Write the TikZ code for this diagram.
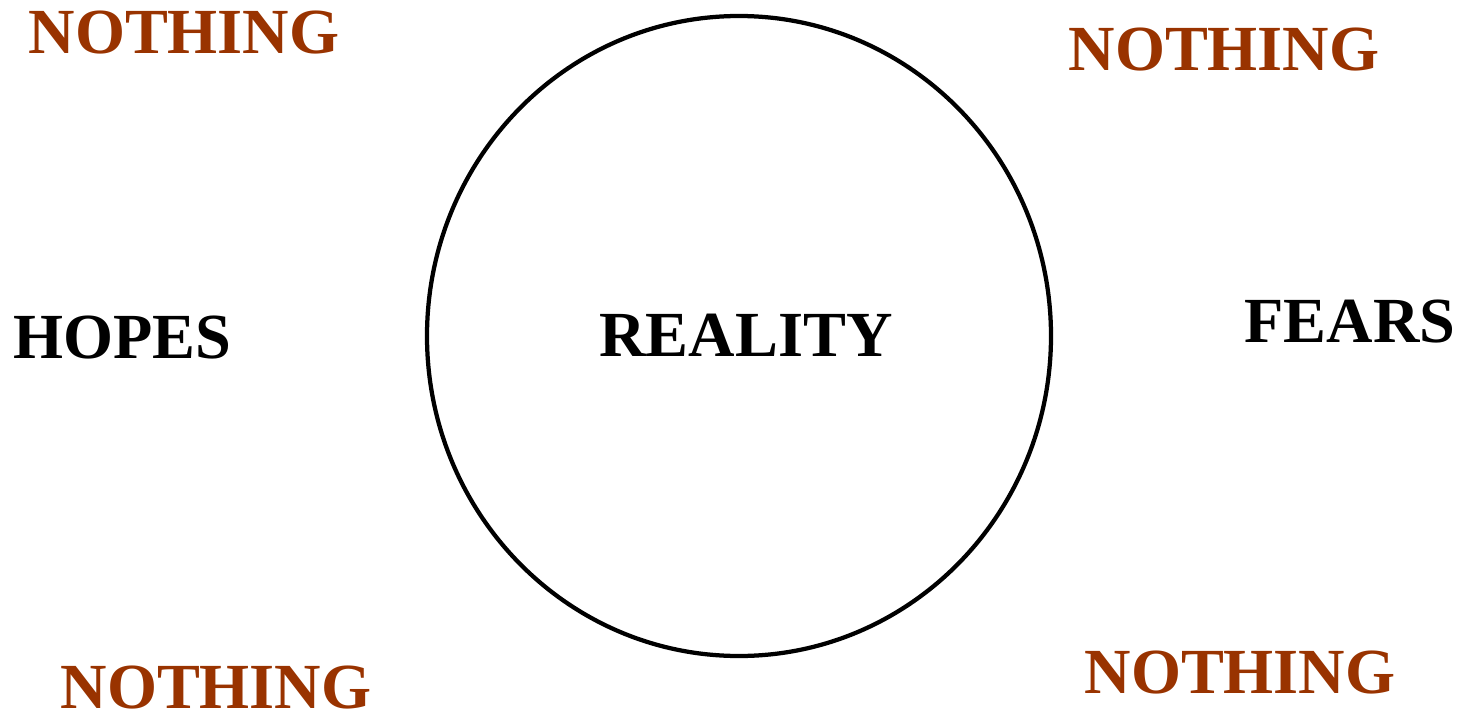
\documentclass[tikz,border=0pt]{standalone}
\usepackage{fontspec}
\setmainfont{Liberation Serif}
\usepackage{xcolor}
\usetikzlibrary{positioning}

\definecolor{rust}{HTML}{993300}

\begin{document}
\begin{tikzpicture}[
  x=0.02cm, y=-0.02cm,
  word/.style={inner sep=0pt, font=\fontsize{36.6}{40}\selectfont\bfseries},
  void/.style={word, text=rust},
  ring/.style={draw, line width=0.085cm}
]
\useasboundingbox (0,0) rectangle (1458,713);

% --- Centre ---
\draw[ring] (739,336) ellipse [x radius=312, y radius=320];
\node[word] (real) at (746,335) {REALITY};

% --- Sides ---
\node[word] (hopes) at (122,338) {HOPES};
\node[word] (fears) at (1350,322) {FEARS};

% --- Corners ---
\node[void] (tl) at (184,33) {NOTHING};
\node[void] (tr) at (1224,50) {NOTHING};
\node[void] (bl) at (216,688) {NOTHING};
\node[void] (br) at (1240,673) {NOTHING};

\end{tikzpicture}
\end{document}
